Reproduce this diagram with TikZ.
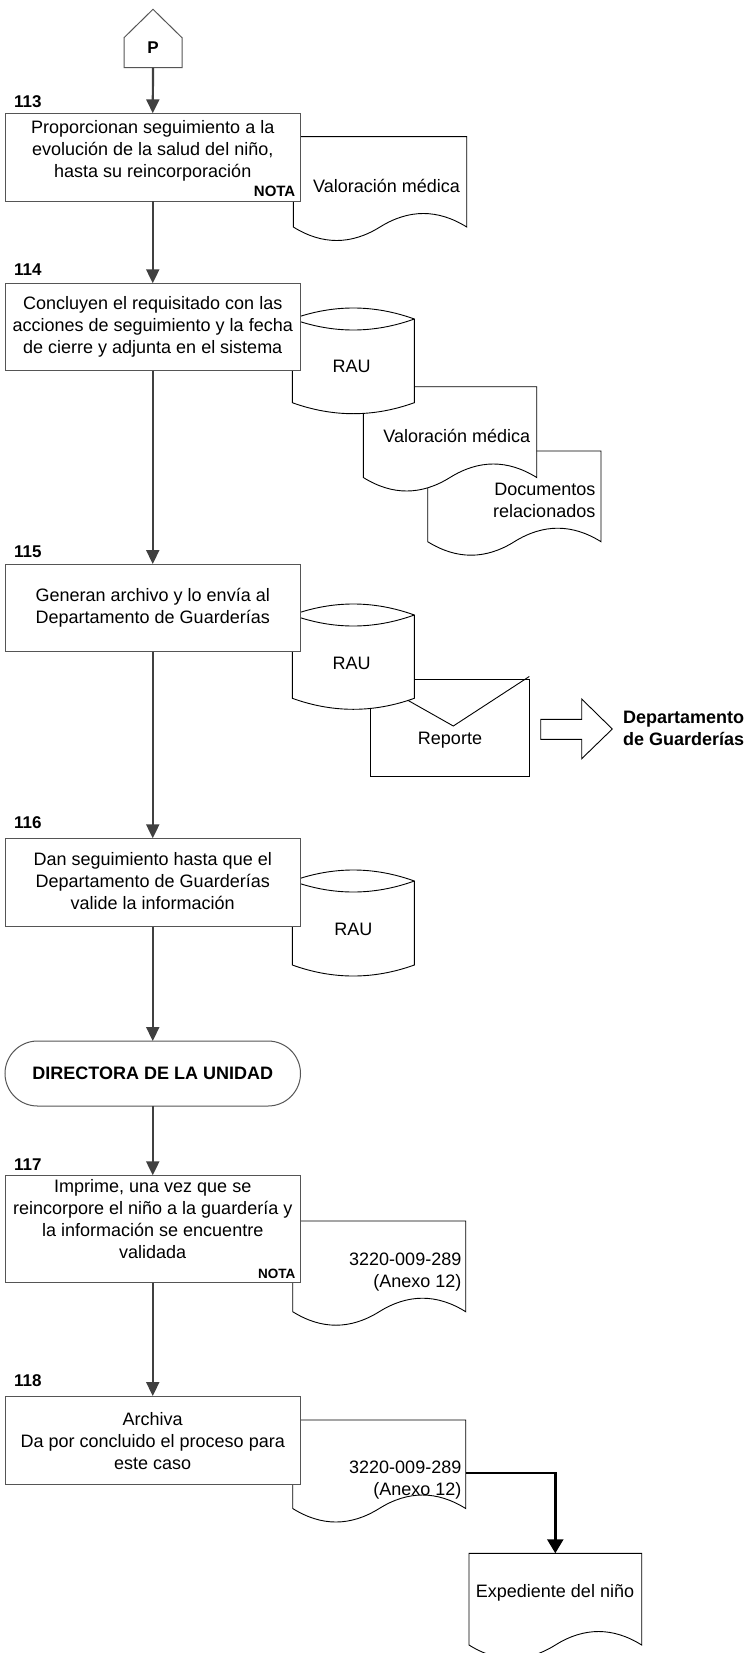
\documentclass[tikz,border=0pt]{standalone}
\usepackage{fontspec}
\setmainfont{Liberation Sans}
\usetikzlibrary{arrows.meta}
\definecolor{linegray}{HTML}{404040}
\definecolor{boxgray}{HTML}{555555}

\newcommand\docshape[4]{%
  \pgfmathsetmacro\dcA{#1}\pgfmathsetmacro\dcB{#2}\pgfmathsetmacro\dcC{#3}\pgfmathsetmacro\dcE{#4}%
  \pgfmathsetmacro\dcW{\dcC-\dcA}%
  \pgfmathsetmacro\dcM{(\dcA+\dcC)/2}%
  \pgfmathsetmacro\dcXa{\dcA+0.75*\dcW}%
  \pgfmathsetmacro\dcXb{\dcA+0.25*\dcW}%
  \pgfmathsetmacro\dcPa{\dcC+2/3*(\dcXa-\dcC)}%
  \pgfmathsetmacro\dcPb{\dcM+2/3*(\dcXa-\dcM)}%
  \pgfmathsetmacro\dcPc{\dcM+2/3*(\dcXb-\dcM)}%
  \pgfmathsetmacro\dcPd{\dcA+2/3*(\dcXb-\dcA)}%
  \pgfmathsetmacro\dcYu{\dcE-4/3*13.5}%
  \pgfmathsetmacro\dcYd{\dcE+4/3*13.5}%
  \filldraw[docline] (\dcA,\dcB) -- (\dcC,\dcB) -- (\dcC,\dcE)
    .. controls (\dcPa,\dcYu) and (\dcPb,\dcYu) .. (\dcM,\dcE)
    .. controls (\dcPc,\dcYd) and (\dcPd,\dcYd) .. (\dcA,\dcE) -- cycle;}

\newcommand\cylshape[4]{%
  \pgfmathsetmacro\cyA{#1}\pgfmathsetmacro\cyB{#2}\pgfmathsetmacro\cyR{#3}\pgfmathsetmacro\cyS{#4}%
  \pgfmathsetmacro\cyP{#1+(#2-#1)/3}%
  \pgfmathsetmacro\cyQ{#2-(#2-#1)/3}%
  \pgfmathsetmacro\cyRu{#3-4/3*11}%
  \pgfmathsetmacro\cyRd{#3+4/3*11}%
  \pgfmathsetmacro\cySd{#4+4/3*11}%
  \filldraw[docline] (\cyA,\cyR) .. controls (\cyP,\cyRu) and (\cyQ,\cyRu) .. (\cyB,\cyR)
    -- (\cyB,\cyS) .. controls (\cyQ,\cySd) and (\cyP,\cySd) .. (\cyA,\cyS) -- cycle;
  \draw[docline, fill=none] (\cyA,\cyR) .. controls (\cyP,\cyRd) and (\cyQ,\cyRd) .. (\cyB,\cyR);}

\tikzset{
  docline/.style={draw=black, fill=white, line width=0.9pt},
  stepbox/.style={draw=boxgray, fill=white, line width=1pt, rectangle, inner sep=0pt, outer sep=0pt, minimum width=295.5pt},
  txt/.style={font=\fontsize{18}{22}\selectfont, align=center, inner sep=0pt},
  btxt/.style={font=\fontsize{18}{22}\selectfont\bfseries, align=left, inner sep=0pt},
  numlbl/.style={font=\fontsize{17}{20}\selectfont\bfseries, anchor=west, inner sep=0pt},
  notalbl/.style={font=\fontsize{15}{18}\selectfont\bfseries, anchor=east, inner sep=0pt},
  flow/.style={draw=linegray, line width=2.2pt, -{Triangle[length=14pt,width=13pt]}},
  blackflow/.style={draw=black, line width=2.4pt, -{Triangle[length=14pt,width=16pt]}},
}

\begin{document}
\begin{tikzpicture}[x=1pt,y=-1pt]
\useasboundingbox (0,0) rectangle (747,1653);
\fill[white] (0,0) rectangle (747,1653);

% ---------- documents and data stores (behind the boxes) ----------
\docshape{293.3}{136.7}{466.7}{227}
\docshape{427.7}{451}{601}{541.7}
\docshape{363.3}{386.7}{536.7}{477.5}
\cylshape{292.3}{414.3}{319}{402.7}
% envelope
\filldraw[docline] (370.7,679.3) rectangle (529.3,776.7);
\draw[docline, fill=none] (370.7,679.3) -- (453.3,726) -- (529.3,676.5);
\cylshape{292.3}{414.3}{615}{698.3}
% block arrow
\filldraw[docline] (540.7,719.3) -- (581.7,719.3) -- (581.7,699) -- (612.3,729)
  -- (581.7,758.7) -- (581.7,739.3) -- (540.7,739.3) -- cycle;
\cylshape{292.3}{414.3}{881}{965}
\docshape{292.7}{1221}{465.7}{1311.7}
\docshape{292.7}{1420}{465.7}{1508.5}
\docshape{469}{1553.3}{641.7}{1645}

% ---------- connector P ----------
\filldraw[draw=boxgray, fill=white, line width=1pt]
  (124,67.7) -- (124,37.7) -- (153,9.3) -- (182,37.7) -- (182,67.7) -- cycle;
\node[font=\fontsize{17}{20}\selectfont\bfseries, inner sep=0pt] (pnode) at (153,48) {P};
\coordinate (pbot) at (153,67.7);

% ---------- process boxes ----------
\node[stepbox, minimum height=88pt] (b113) at (152.75,157.3) {};
\node[stepbox, minimum height=87.4pt] (b114) at (152.75,327) {};
\node[stepbox, minimum height=87.7pt] (b115) at (152.75,607.85) {};
\node[stepbox, minimum height=88.4pt] (b116) at (152.75,882.5) {};
\node[stepbox, minimum height=65pt, rounded corners=32.5pt] (term) at (152.75,1073.5) {};
\node[stepbox, minimum height=107.4pt] (b117) at (152.75,1229) {};
\node[stepbox, minimum height=88.7pt] (b118) at (152.75,1440.35) {};

% ---------- step numbers ----------
\node[numlbl] (n113) at (14,101.7) {113};
\node[numlbl] (n114) at (14,270) {114};
\node[numlbl] (n115) at (14,552) {115};
\node[numlbl] (n116) at (14,823) {116};
\node[numlbl] (n117) at (14,1164.3) {117};
\node[numlbl] (n118) at (14,1380.7) {118};

% ---------- box texts ----------
\node[txt] (t113) at (152.75,151) {Proporcionan seguimiento a la\\evolución de la salud del niño,\\hasta su reincorporación};
\node[notalbl] (nota113) at (295.5,191) {NOTA};
\node[txt] (t114) at (152.75,327) {Concluyen el requisitado con las\\acciones de seguimiento y la fecha\\de cierre y adjunta en el sistema};
\node[txt] (t115) at (152.75,608) {Generan archivo y lo envía al\\Departamento de Guarderías};
\node[txt] (t116) at (152.75,881.5) {Dan seguimiento hasta que el\\Departamento de Guarderías\\valide la información};
\node[txt, font=\fontsize{18}{22}\selectfont\bfseries] (tterm) at (152.75,1073.5) {DIRECTORA DE LA UNIDAD};
\node[txt] (t117) at (152.75,1218.7) {Imprime, una vez que se\\reincorpore el niño a la guardería y\\la información se encuentre\\validada};
\node[notalbl, font=\fontsize{13.5}{16}\selectfont\bfseries] (nota117) at (295.5,1274) {NOTA};
\node[txt] (t118) at (152.75,1441) {Archiva\\Da por concluido el proceso para\\este caso};

% ---------- document / store texts ----------
\node[txt] (d1) at (386.5,186) {Valoración médica};
\node[txt] (c1) at (351.7,366.7) {RAU};
\node[txt] (d2) at (456.7,435.7) {Valoración médica};
\node[txt, align=right, anchor=east] (d3) at (595.5,500.5) {Documentos\\relacionados};
\node[txt] (c2) at (351.7,663.3) {RAU};
\node[txt] (env) at (450,740) {Reporte};
\node[btxt, anchor=west] (dept) at (623,728.3) {Departamento\\de Guarderías};
\node[txt] (c3) at (353.3,929) {RAU};
\node[txt, align=right, anchor=east] (d4) at (461.5,1271.7) {3220-009-289\\(Anexo 12)};
\node[txt, align=right, anchor=east] (d5) at (461.5,1479.8) {3220-009-289\\(Anexo 12)};
\node[txt] (d6) at (555,1593.3) {Expediente del niño};

% ---------- connectors ----------
\draw[flow] (pbot) -- (b113.north);
\draw[flow] (b113.south) -- (b114.north);
\draw[flow] (b114.south) -- (b115.north);
\draw[flow] (b115.south) -- (b116.north);
\draw[flow] (b116.south) -- (term.north);
\draw[flow] (term.south) -- (b117.north);
\draw[flow] (b117.south) -- (b118.north);
\coordinate (d5out) at (465.7,1472.7);
\coordinate (d6in) at (555.3,1553.3);
\draw[blackflow] (d5out) -| (d6in);
\end{tikzpicture}
\end{document}
